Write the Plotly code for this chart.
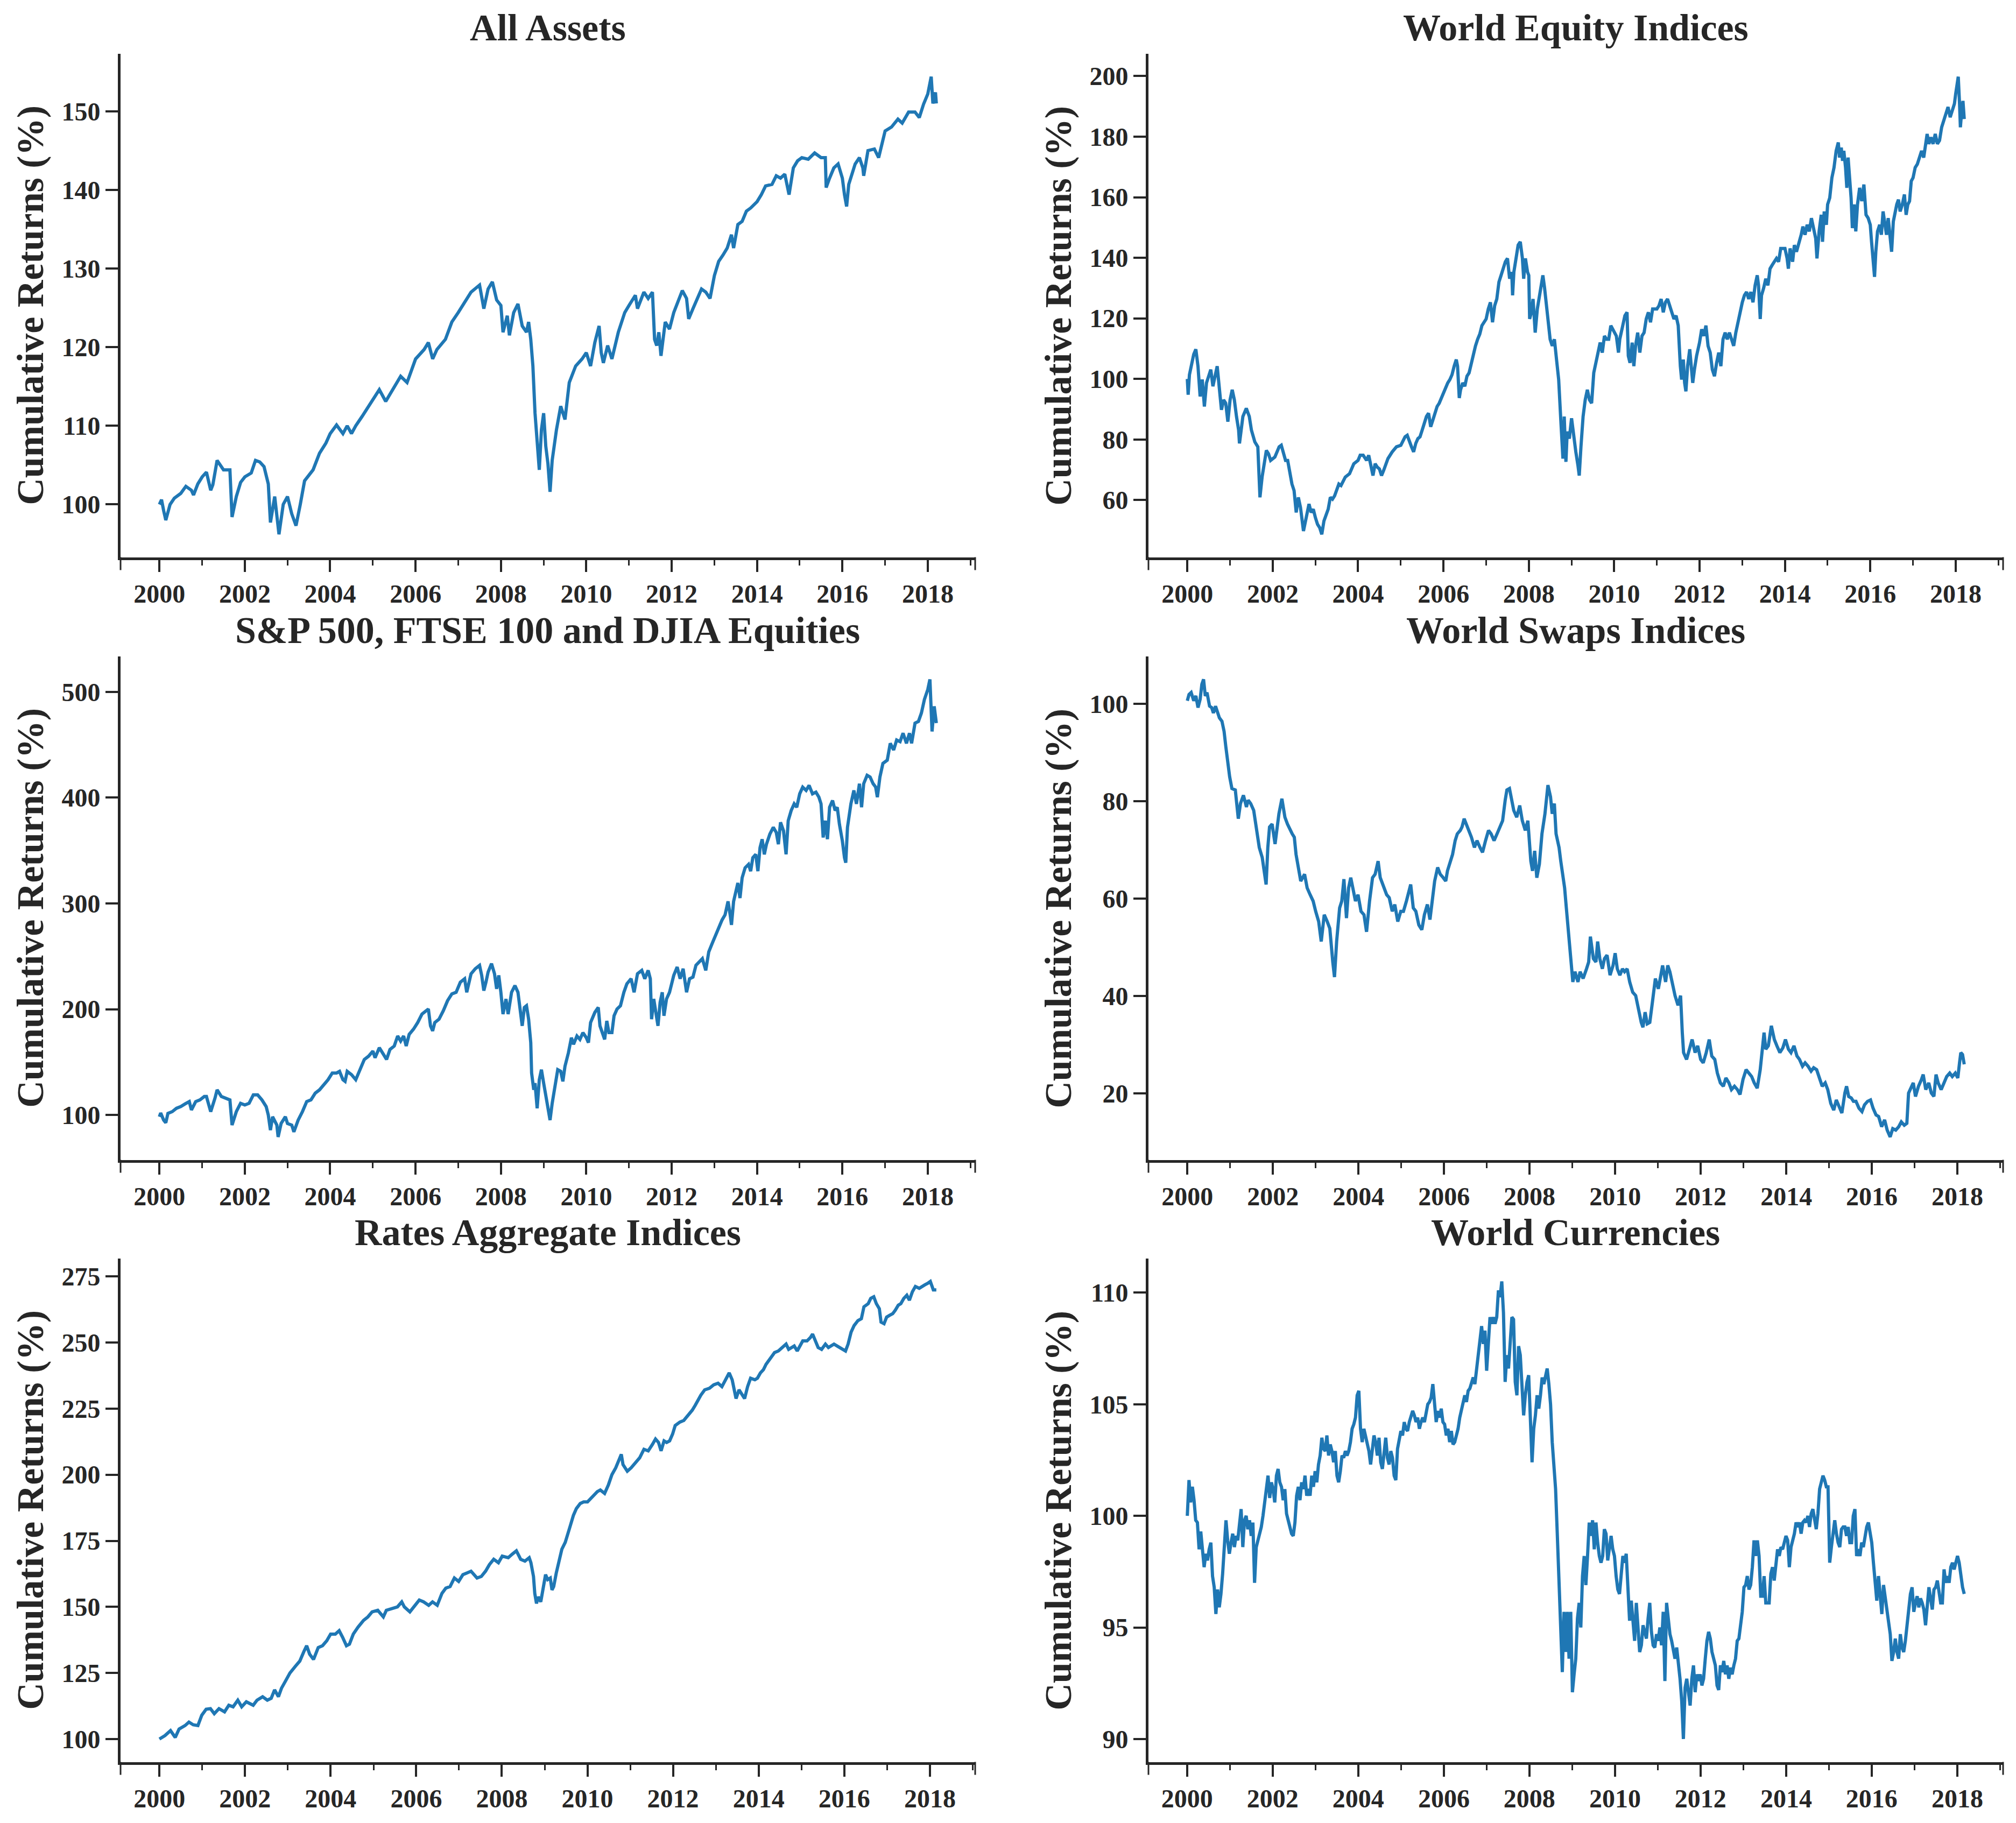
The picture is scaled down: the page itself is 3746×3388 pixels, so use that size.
import numpy as np
import pandas as pd
import plotly.graph_objects as go

# ---------------- data (decimal year, cumulative return %) ----------------
all_assets = [
(2000.00,100.0),(2000.05,100.6),(2000.10,99.2),(2000.15,98.0),(2000.25,100.0),(2000.35,100.8),(2000.50,101.4),
(2000.62,102.3),(2000.75,101.8),(2000.80,101.2),(2000.90,102.6),(2001.00,103.5),(2001.10,104.1),(2001.20,101.8),
(2001.25,102.5),(2001.35,105.6),(2001.50,104.4),(2001.65,104.4),(2001.70,98.4),(2001.80,101.0),(2001.90,102.8),
(2002.00,103.5),(2002.15,104.0),(2002.25,105.6),(2002.35,105.4),(2002.45,104.8),(2002.55,102.6),(2002.60,97.7),
(2002.70,101.0),(2002.80,96.2),(2002.90,100.0),(2003.00,101.0),(2003.10,98.8),(2003.20,97.3),(2003.30,100.0),
(2003.40,103.0),(2003.50,103.7),(2003.60,104.4),(2003.75,106.5),(2003.90,107.8),(2004.00,109.0),(2004.15,110.1),
(2004.30,109.0),(2004.40,110.0),(2004.50,109.0),(2004.60,110.0),(2004.75,111.2),(2004.90,112.5),(2005.00,113.3),
(2005.15,114.6),(2005.30,113.1),(2005.50,115.0),(2005.65,116.3),(2005.80,115.5),(2006.00,118.5),(2006.20,119.7),
(2006.30,120.6),(2006.40,118.5),(2006.50,119.7),(2006.70,121.0),(2006.85,123.2),(2007.00,124.4),(2007.15,125.7),
(2007.30,127.0),(2007.50,127.9),(2007.60,124.9),(2007.70,127.4),(2007.80,128.3),(2007.90,126.0),(2008.00,125.3),
(2008.05,121.9),(2008.15,124.0),(2008.20,121.5),(2008.30,124.4),(2008.40,125.5),(2008.50,122.7),(2008.60,121.9),
(2008.65,123.2),(2008.70,121.0),(2008.75,117.6),(2008.80,111.6),(2008.85,108.2),(2008.90,104.4),(2008.95,109.5),
(2009.00,111.6),(2009.05,107.4),(2009.10,105.2),(2009.15,101.6),(2009.20,105.6),(2009.30,109.5),(2009.40,112.5),
(2009.50,110.8),(2009.60,115.5),(2009.75,117.6),(2009.90,118.5),(2010.00,119.3),(2010.10,117.6),(2010.20,120.6),
(2010.30,122.7),(2010.35,119.3),(2010.40,118.0),(2010.50,120.2),(2010.60,118.5),(2010.75,121.9),(2010.90,124.4),
(2011.00,125.3),(2011.15,126.6),(2011.20,124.9),(2011.35,127.0),(2011.45,126.2),(2011.55,127.0),(2011.60,121.0),
(2011.65,120.2),(2011.70,121.9),(2011.75,118.9),(2011.85,123.2),(2011.95,122.3),(2012.05,124.4),(2012.15,125.7),
(2012.25,127.2),(2012.35,126.2),(2012.40,123.6),(2012.50,124.9),(2012.60,126.2),(2012.70,127.4),(2012.80,127.0),
(2012.90,126.2),(2013.00,129.1),(2013.10,130.9),(2013.20,131.7),(2013.30,132.6),(2013.40,134.3),(2013.45,132.6),
(2013.55,135.6),(2013.65,136.0),(2013.75,137.3),(2013.85,137.7),(2014.00,138.5),(2014.10,139.4),(2014.20,140.5),
(2014.35,140.7),(2014.45,141.8),(2014.55,141.5),(2014.65,142.0),(2014.75,139.4),(2014.85,142.8),(2014.95,143.7),
(2015.05,144.1),(2015.20,143.9),(2015.35,144.7),(2015.50,144.1),(2015.60,144.1),(2015.62,140.3),(2015.70,141.5),
(2015.80,142.8),(2015.90,143.3),(2016.00,141.5),(2016.05,139.4),(2016.10,137.9),(2016.15,140.7),(2016.30,143.3),
(2016.40,144.1),(2016.48,142.8),(2016.50,141.8),(2016.60,145.0),(2016.75,145.2),(2016.85,144.1),(2017.00,147.5),
(2017.15,148.0),(2017.30,149.0),(2017.40,148.5),(2017.55,149.9),(2017.70,149.9),(2017.80,149.2),(2017.90,150.9),
(2018.00,152.2),(2018.05,153.9),(2018.08,154.4),(2018.12,151.0),(2018.18,152.4),(2018.20,151.0)]

world_equity = [
(2000.00,100.0),(2000.02,94.8),(2000.05,101.4),(2000.10,104.2),(2000.15,108.1),(2000.20,109.8),(2000.25,104.2),
(2000.30,94.2),(2000.35,99.8),(2000.40,90.9),(2000.45,98.7),(2000.55,103.1),(2000.60,97.6),(2000.70,104.2),
(2000.75,96.4),(2000.80,89.8),(2000.85,93.1),(2000.90,92.0),(2000.95,85.9),(2001.00,93.1),(2001.05,96.4),
(2001.10,93.1),(2001.15,87.6),(2001.20,83.1),(2001.22,78.7),(2001.30,87.6),(2001.38,90.3),(2001.45,87.6),
(2001.50,83.1),(2001.58,79.2),(2001.65,77.6),(2001.70,60.9),(2001.75,67.6),(2001.80,72.0),(2001.85,76.4),
(2001.90,75.3),(2001.95,73.1),(2002.05,74.2),(2002.15,77.6),(2002.20,78.1),(2002.25,75.9),(2002.30,73.1),
(2002.35,73.1),(2002.40,68.7),(2002.45,65.3),(2002.50,63.1),(2002.55,55.9),(2002.60,60.9),(2002.65,57.6),
(2002.70,52.0),(2002.72,49.8),(2002.80,55.3),(2002.85,58.7),(2002.90,55.9),(2002.95,57.0),(2003.00,54.2),
(2003.05,52.0),(2003.10,50.9),(2003.15,48.7),(2003.20,53.1),(2003.25,55.3),(2003.30,57.0),(2003.35,60.9),
(2003.40,60.3),(2003.45,61.4),(2003.50,63.1),(2003.55,65.3),(2003.60,64.8),(2003.65,66.4),(2003.70,67.6),
(2003.80,68.7),(2003.90,72.0),(2004.00,73.1),(2004.05,74.8),(2004.12,74.8),(2004.20,73.1),(2004.25,74.8),
(2004.30,70.9),(2004.35,68.1),(2004.40,72.0),(2004.45,70.9),(2004.50,70.3),(2004.55,68.1),(2004.60,69.8),
(2004.65,72.0),(2004.70,73.7),(2004.80,75.9),(2004.90,77.6),(2005.00,78.1),(2005.05,79.8),(2005.10,80.9),
(2005.15,81.4),(2005.20,79.2),(2005.25,77.6),(2005.30,75.9),(2005.35,78.7),(2005.40,80.3),(2005.45,80.9),
(2005.50,83.1),(2005.55,85.3),(2005.60,87.6),(2005.65,88.7),(2005.70,84.2),(2005.75,86.4),(2005.80,88.7),
(2005.85,90.9),(2005.90,92.0),(2006.00,95.3),(2006.05,97.6),(2006.10,98.7),(2006.15,99.8),(2006.20,101.4),
(2006.25,104.2),(2006.30,106.4),(2006.33,104.2),(2006.37,93.7),(2006.40,96.4),(2006.45,98.7),(2006.50,97.6),
(2006.55,100.9),(2006.60,102.0),(2006.65,105.3),(2006.70,108.7),(2006.75,110.9),(2006.80,113.1),(2006.85,114.8),
(2006.90,117.6),(2007.00,119.8),(2007.05,123.1),(2007.10,125.3),(2007.15,118.7),(2007.20,124.2),(2007.25,126.4),
(2007.30,132.0),(2007.35,134.2),(2007.40,136.4),(2007.45,138.7),(2007.50,139.8),(2007.55,133.1),(2007.60,135.3),
(2007.62,127.6),(2007.65,135.3),(2007.70,139.8),(2007.75,144.2),(2007.80,145.3),(2007.85,139.8),(2007.88,133.1),
(2007.92,139.8),(2007.97,135.3),(2008.00,134.2),(2008.02,119.8),(2008.06,122.0),(2008.10,126.4),(2008.13,117.6),
(2008.15,115.3),(2008.20,123.1),(2008.25,127.6),(2008.30,130.9),(2008.33,134.2),(2008.37,130.0),(2008.42,123.1),
(2008.47,115.3),(2008.50,113.1),(2008.55,110.9),(2008.60,113.1),(2008.65,106.4),(2008.70,99.8),(2008.75,86.4),
(2008.80,73.7),(2008.83,87.6),(2008.87,72.6),(2008.90,82.6),(2008.95,80.3),(2009.00,87.0),(2009.05,80.3),
(2009.10,75.9),(2009.15,71.4),(2009.18,68.1),(2009.22,77.6),(2009.27,87.6),(2009.32,93.1),(2009.37,96.4),
(2009.42,93.1),(2009.47,92.0),(2009.52,102.0),(2009.57,105.3),(2009.62,108.7),(2009.67,112.0),(2009.72,108.7),
(2009.77,114.2),(2009.82,113.1),(2009.87,113.1),(2009.92,117.6),(2010.05,114.2),(2010.10,108.7),(2010.13,113.1),
(2010.20,117.6),(2010.25,120.9),(2010.30,122.0),(2010.33,107.6),(2010.37,105.3),(2010.42,112.0),(2010.46,104.2),
(2010.50,110.9),(2010.55,115.3),(2010.60,108.7),(2010.65,114.2),(2010.70,115.3),(2010.75,119.8),(2010.80,122.0),
(2010.85,118.7),(2010.90,123.1),(2011.00,123.1),(2011.05,124.2),(2011.10,126.4),(2011.15,122.0),(2011.20,125.3),
(2011.25,126.4),(2011.30,124.2),(2011.35,122.0),(2011.40,119.8),(2011.45,120.9),(2011.50,117.6),(2011.55,104.2),
(2011.58,99.8),(2011.62,106.4),(2011.65,98.7),(2011.68,95.9),(2011.72,104.2),(2011.77,109.8),(2011.80,104.2),
(2011.84,98.7),(2011.88,103.1),(2011.93,107.6),(2012.00,112.0),(2012.05,116.4),(2012.10,114.2),(2012.15,117.6),
(2012.20,110.9),(2012.25,108.7),(2012.30,103.1),(2012.35,100.9),(2012.40,105.3),(2012.45,108.7),(2012.50,104.2),
(2012.55,113.1),(2012.60,115.3),(2012.65,113.1),(2012.70,115.3),(2012.75,113.1),(2012.80,110.9),(2012.85,115.3),
(2012.90,118.7),(2012.95,122.0),(2013.00,125.3),(2013.05,127.6),(2013.10,128.7),(2013.15,126.4),(2013.20,128.7),
(2013.25,125.3),(2013.30,130.9),(2013.35,134.2),(2013.38,130.9),(2013.42,119.8),(2013.45,127.6),(2013.50,130.0),
(2013.55,133.1),(2013.60,130.9),(2013.65,136.4),(2013.70,137.6),(2013.75,138.7),(2013.80,139.8),(2013.85,138.7),
(2013.90,143.1),(2014.00,143.1),(2014.05,139.8),(2014.08,136.4),(2014.12,143.1),(2014.18,138.7),(2014.22,144.2),
(2014.27,142.0),(2014.32,144.2),(2014.38,147.6),(2014.42,150.3),(2014.47,147.6),(2014.52,150.9),(2014.57,148.7),
(2014.62,153.1),(2014.67,149.8),(2014.72,146.4),(2014.75,139.8),(2014.80,148.7),(2014.85,154.2),(2014.88,145.3),
(2014.92,155.3),(2014.97,150.9),(2015.00,157.6),(2015.05,159.8),(2015.10,166.4),(2015.15,169.8),(2015.20,175.3),
(2015.25,178.1),(2015.28,173.1),(2015.32,176.4),(2015.35,172.0),(2015.38,175.3),(2015.42,169.8),(2015.45,163.1),
(2015.48,173.1),(2015.52,166.4),(2015.55,159.8),(2015.58,149.8),(2015.62,157.6),(2015.66,148.7),(2015.70,157.6),
(2015.75,163.1),(2015.80,158.7),(2015.85,164.2),(2015.90,154.2),(2015.95,153.1),(2016.00,150.9),(2016.03,145.3),
(2016.07,139.8),(2016.10,133.7),(2016.13,142.0),(2016.17,148.7),(2016.22,150.9),(2016.26,147.6),(2016.30,155.3),
(2016.34,150.9),(2016.38,147.6),(2016.42,153.1),(2016.50,142.0),(2016.54,152.0),(2016.58,155.3),(2016.62,157.6),
(2016.66,159.2),(2016.70,155.3),(2016.75,157.6),(2016.80,160.9),(2016.84,154.2),(2016.88,157.6),(2016.92,158.7),
(2016.96,165.3),(2017.00,166.4),(2017.05,169.8),(2017.10,170.9),(2017.15,173.1),(2017.20,175.3),(2017.25,173.1),
(2017.30,178.7),(2017.33,180.9),(2017.37,177.6),(2017.42,179.8),(2017.47,177.6),(2017.52,180.9),(2017.57,177.6),
(2017.62,178.7),(2017.67,183.1),(2017.72,185.3),(2017.77,187.6),(2017.82,189.8),(2017.87,186.4),(2017.92,189.1),
(2017.97,190.9),(2018.00,194.2),(2018.03,197.6),(2018.06,199.8),(2018.09,190.9),(2018.11,183.1),(2018.14,188.4),
(2018.17,191.8),(2018.20,185.8)]

sp_ftse_djia = [
(2000.00,98.4),(2000.03,102.0),(2000.10,95.2),(2000.15,92.7),(2000.20,101.6),(2000.30,103.2),(2000.40,106.4),
(2000.50,108.0),(2000.60,110.5),(2000.70,112.7),(2000.75,104.8),(2000.85,112.7),(2000.95,114.3),(2001.05,117.5),
(2001.10,117.5),(2001.20,103.2),(2001.30,115.9),(2001.35,123.8),(2001.45,117.5),(2001.55,115.9),(2001.65,114.3),
(2001.70,90.5),(2001.80,103.2),(2001.90,111.1),(2002.00,109.5),(2002.10,111.1),(2002.20,119.1),(2002.30,119.1),
(2002.40,114.3),(2002.50,108.0),(2002.55,100.0),(2002.60,85.7),(2002.65,98.4),(2002.75,90.5),(2002.78,79.3),
(2002.85,92.0),(2002.95,98.4),(2003.00,92.0),(2003.10,90.5),(2003.15,84.1),(2003.25,95.2),(2003.35,103.2),
(2003.45,112.7),(2003.55,114.3),(2003.65,120.7),(2003.75,123.8),(2003.85,128.6),(2003.95,133.4),(2004.05,139.7),
(2004.15,139.7),(2004.22,141.3),(2004.30,133.4),(2004.35,131.8),(2004.40,141.3),(2004.50,138.2),(2004.60,133.4),
(2004.70,142.9),(2004.80,152.5),(2004.90,155.6),(2005.00,160.4),(2005.05,154.1),(2005.15,163.6),(2005.25,157.2),
(2005.32,152.5),(2005.40,162.0),(2005.50,165.2),(2005.58,174.7),(2005.65,169.9),(2005.72,174.7),(2005.78,165.2),
(2005.85,176.3),(2005.95,181.1),(2006.05,187.4),(2006.15,195.4),(2006.25,198.6),(2006.30,200.2),(2006.35,184.3),
(2006.40,179.5),(2006.45,187.4),(2006.55,190.6),(2006.65,198.6),(2006.75,208.1),(2006.85,214.5),(2006.95,216.0),
(2007.05,225.6),(2007.15,228.8),(2007.20,216.0),(2007.30,233.5),(2007.40,238.3),(2007.50,241.5),(2007.55,232.0),
(2007.60,217.6),(2007.65,225.6),(2007.70,235.1),(2007.78,243.1),(2007.85,233.5),(2007.90,219.2),(2007.95,232.0),
(2008.00,216.0),(2008.05,195.4),(2008.12,209.7),(2008.17,195.4),(2008.25,216.0),(2008.33,222.4),(2008.40,216.0),
(2008.45,200.2),(2008.50,184.3),(2008.55,201.7),(2008.60,203.3),(2008.65,190.6),(2008.70,168.4),(2008.72,139.7),
(2008.77,123.8),(2008.80,130.2),(2008.85,106.4),(2008.90,133.4),(2008.95,142.9),(2009.00,130.2),(2009.05,117.5),
(2009.10,108.0),(2009.15,95.2),(2009.20,111.1),(2009.27,130.2),(2009.33,142.9),(2009.40,141.3),(2009.45,131.8),
(2009.50,146.1),(2009.58,158.8),(2009.65,173.1),(2009.70,166.8),(2009.78,174.7),(2009.85,171.5),(2009.92,177.9),
(2010.00,173.1),(2010.05,168.4),(2010.10,187.4),(2010.20,197.0),(2010.28,201.7),(2010.32,184.3),(2010.38,177.9),
(2010.43,171.5),(2010.48,189.0),(2010.53,177.9),(2010.60,177.9),(2010.65,193.8),(2010.72,200.2),(2010.80,203.3),
(2010.88,216.0),(2010.95,224.0),(2011.05,228.8),(2011.12,216.0),(2011.20,233.5),(2011.30,236.7),(2011.37,228.8),
(2011.45,236.7),(2011.50,228.8),(2011.53,190.6),(2011.58,209.7),(2011.62,200.2),(2011.68,184.3),(2011.73,206.5),
(2011.78,216.0),(2011.82,193.8),(2011.88,209.7),(2011.95,216.0),(2012.05,232.0),(2012.13,239.9),(2012.20,228.8),
(2012.27,238.3),(2012.35,216.0),(2012.42,228.8),(2012.50,230.4),(2012.57,241.5),(2012.65,244.6),(2012.72,247.8),
(2012.80,236.7),(2012.87,254.2),(2012.95,262.2),(2013.05,271.7),(2013.12,279.7),(2013.18,284.4),(2013.25,289.2),
(2013.32,301.9),(2013.37,289.2),(2013.40,279.7),(2013.45,301.9),(2013.50,311.4),(2013.55,319.4),(2013.60,305.1),
(2013.65,324.2),(2013.72,333.7),(2013.80,336.9),(2013.85,330.5),(2013.90,343.2),(2013.97,346.4),(2014.02,330.5),
(2014.07,352.8),(2014.12,360.7),(2014.17,346.4),(2014.22,355.9),(2014.30,365.5),(2014.38,371.9),(2014.45,367.1),
(2014.50,355.9),(2014.55,376.6),(2014.62,368.7),(2014.68,346.4),(2014.73,378.2),(2014.80,387.8),(2014.87,394.1),
(2014.93,390.9),(2015.00,403.6),(2015.07,409.9),(2015.15,406.8),(2015.22,411.6),(2015.30,403.6),(2015.38,405.2),
(2015.45,400.4),(2015.50,394.1),(2015.55,362.3),(2015.60,378.2),(2015.65,360.7),(2015.70,390.9),(2015.77,397.3),
(2015.83,387.8),(2015.88,390.9),(2015.93,375.0),(2016.00,359.1),(2016.05,343.2),(2016.08,338.5),(2016.12,371.9),
(2016.20,394.1),(2016.27,406.8),(2016.33,394.1),(2016.40,413.2),(2016.45,390.9),(2016.50,413.2),(2016.58,421.1),
(2016.65,419.5),(2016.72,413.2),(2016.78,410.0),(2016.82,400.4),(2016.88,419.5),(2016.95,432.3),(2017.05,435.4),
(2017.12,451.3),(2017.20,445.0),(2017.27,454.5),(2017.35,452.9),(2017.42,460.9),(2017.50,451.3),(2017.57,460.9),
(2017.62,451.3),(2017.70,470.4),(2017.78,472.0),(2017.85,480.0),(2017.92,492.7),(2018.00,502.2),(2018.05,511.8),
(2018.08,480.0),(2018.10,462.5),(2018.15,486.3),(2018.20,470.4)]

world_swaps = [
(2000.00,100.6),(2000.04,101.9),(2000.09,102.3),(2000.15,100.6),(2000.20,101.6),(2000.25,99.2),(2000.30,100.9),
(2000.34,104.0),(2000.38,105.0),(2000.42,101.6),(2000.46,102.3),(2000.52,99.5),(2000.57,99.2),(2000.61,98.1),
(2000.66,99.5),(2000.71,98.1),(2000.75,97.1),(2000.81,96.4),(2000.86,94.3),(2000.90,91.2),(2000.94,88.1),
(2000.99,85.0),(2001.04,82.6),(2001.12,82.3),(2001.19,76.4),(2001.24,79.5),(2001.31,81.2),(2001.38,78.8),
(2001.42,80.2),(2001.48,79.5),(2001.55,78.1),(2001.61,74.7),(2001.68,70.5),(2001.75,68.4),(2001.84,62.9),
(2001.88,70.5),(2001.92,74.7),(2001.98,75.3),(2002.05,71.2),(2002.14,77.4),(2002.21,80.5),(2002.28,76.7),
(2002.34,75.3),(2002.45,73.3),(2002.50,72.6),(2002.54,69.1),(2002.61,65.0),(2002.65,63.6),(2002.74,65.0),
(2002.80,62.2),(2002.87,60.8),(2002.94,59.5),(2003.00,57.4),(2003.07,55.3),(2003.13,51.2),(2003.20,56.7),
(2003.27,55.3),(2003.33,53.9),(2003.40,47.0),(2003.44,43.9),(2003.49,51.2),(2003.56,58.1),(2003.61,59.5),
(2003.66,64.0),(2003.72,56.0),(2003.77,62.2),(2003.82,64.3),(2003.88,61.5),(2003.93,59.5),(2003.99,60.8),
(2004.06,57.4),(2004.13,56.7),(2004.19,53.2),(2004.26,59.5),(2004.33,64.3),(2004.39,65.0),(2004.46,67.7),
(2004.51,64.3),(2004.59,62.2),(2004.66,60.8),(2004.72,60.2),(2004.79,57.4),(2004.85,58.8),(2004.92,55.3),
(2004.99,57.4),(2005.05,57.4),(2005.12,59.5),(2005.19,62.2),(2005.22,62.9),(2005.28,58.1),(2005.34,57.4),
(2005.41,54.6),(2005.48,53.6),(2005.54,56.7),(2005.61,58.8),(2005.67,55.7),(2005.74,60.8),(2005.78,63.6),
(2005.85,66.4),(2005.91,65.0),(2005.98,64.3),(2006.04,63.6),(2006.08,65.7),(2006.14,67.7),(2006.20,69.1),
(2006.26,71.9),(2006.31,73.3),(2006.38,74.0),(2006.42,74.7),(2006.47,76.4),(2006.52,75.3),(2006.57,74.3),
(2006.64,72.6),(2006.71,70.5),(2006.77,71.9),(2006.84,70.5),(2006.90,69.5),(2006.97,71.9),(2007.04,74.0),
(2007.10,73.3),(2007.17,71.9),(2007.24,73.3),(2007.30,74.7),(2007.37,76.0),(2007.43,80.2),(2007.47,82.3),
(2007.53,82.6),(2007.58,80.2),(2007.63,78.1),(2007.70,76.7),(2007.77,79.1),(2007.83,76.0),(2007.90,74.0),
(2007.96,76.0),(2008.03,67.7),(2008.07,65.7),(2008.12,69.8),(2008.17,64.3),(2008.23,67.1),(2008.29,73.3),
(2008.36,77.4),(2008.43,83.3),(2008.49,80.9),(2008.53,77.4),(2008.58,79.5),(2008.62,73.3),(2008.69,70.5),
(2008.73,67.7),(2008.78,65.0),(2008.82,62.2),(2008.86,58.1),(2008.90,53.9),(2008.93,50.5),(2008.97,45.6),
(2009.01,42.9),(2009.06,45.0),(2009.13,42.9),(2009.18,45.0),(2009.25,43.6),(2009.33,45.6),(2009.38,47.0),
(2009.42,52.2),(2009.49,47.7),(2009.55,47.0),(2009.59,51.2),(2009.64,47.7),(2009.70,45.6),(2009.75,47.7),
(2009.81,48.4),(2009.88,44.3),(2009.95,46.3),(2010.00,48.8),(2010.05,45.6),(2010.11,44.3),(2010.17,45.6),
(2010.22,45.0),(2010.28,45.6),(2010.34,42.9),(2010.41,40.8),(2010.48,40.1),(2010.54,37.4),(2010.61,34.6),
(2010.65,33.6),(2010.70,36.7),(2010.75,34.3),(2010.81,34.6),(2010.87,38.7),(2010.94,43.6),(2011.01,41.5),
(2011.07,44.3),(2011.11,46.3),(2011.18,42.9),(2011.23,46.3),(2011.28,45.0),(2011.34,42.2),(2011.40,40.1),
(2011.47,38.1),(2011.53,40.1),(2011.57,32.5),(2011.60,28.4),(2011.67,27.0),(2011.73,29.1),(2011.80,31.1),
(2011.87,28.4),(2011.93,29.8),(2012.00,27.0),(2012.06,26.3),(2012.13,28.4),(2012.20,31.1),(2012.26,27.7),
(2012.33,27.0),(2012.39,24.2),(2012.46,22.2),(2012.53,21.5),(2012.59,23.2),(2012.66,22.2),(2012.72,20.8),
(2012.79,21.5),(2012.86,20.8),(2012.92,19.8),(2012.99,22.9),(2013.06,24.9),(2013.12,24.2),(2013.19,23.5),
(2013.25,22.2),(2013.32,21.1),(2013.39,24.9),(2013.43,28.4),(2013.48,32.5),(2013.52,29.1),(2013.58,29.8),
(2013.65,33.9),(2013.72,31.1),(2013.78,29.8),(2013.85,28.4),(2013.92,29.4),(2013.98,31.1),(2014.05,29.1),
(2014.11,28.4),(2014.18,29.8),(2014.25,27.7),(2014.31,27.0),(2014.38,25.6),(2014.44,26.3),(2014.51,25.6),
(2014.58,24.6),(2014.64,25.3),(2014.71,24.9),(2014.78,22.9),(2014.84,21.5),(2014.91,22.2),(2014.97,20.8),
(2015.04,18.0),(2015.11,16.6),(2015.17,18.7),(2015.24,17.0),(2015.30,16.0),(2015.37,20.1),(2015.41,21.5),
(2015.46,19.4),(2015.52,19.1),(2015.57,18.4),(2015.63,18.4),(2015.70,17.0),(2015.77,16.3),(2015.83,17.7),
(2015.90,18.4),(2015.97,18.7),(2016.03,17.0),(2016.10,15.6),(2016.16,15.3),(2016.23,13.2),(2016.30,14.6),
(2016.36,12.5),(2016.43,11.1),(2016.49,12.8),(2016.56,12.5),(2016.63,13.2),(2016.69,14.2),(2016.76,13.5),
(2016.82,13.9),(2016.86,20.1),(2016.92,21.5),(2016.97,22.2),(2017.02,19.4),(2017.09,21.5),(2017.16,22.9),
(2017.20,23.9),(2017.26,20.8),(2017.33,22.2),(2017.39,20.1),(2017.45,19.4),(2017.50,23.9),(2017.55,22.2),
(2017.62,20.8),(2017.69,22.2),(2017.75,23.5),(2017.82,24.2),(2017.88,23.5),(2017.95,24.2),(2018.01,23.2),
(2018.05,26.3),(2018.08,28.4),(2018.12,28.0),(2018.16,26.0)]

rates_aggregate = [
(2000.00,100.0),(2000.13,101.3),(2000.26,103.2),(2000.37,100.6),(2000.46,103.8),(2000.60,105.1),(2000.69,106.4),
(2000.79,105.4),(2000.90,105.1),(2000.99,109.0),(2001.09,111.3),(2001.19,111.5),(2001.28,109.6),(2001.39,111.5),
(2001.52,110.3),(2001.62,112.8),(2001.72,112.2),(2001.83,114.7),(2001.92,112.2),(2002.03,114.1),(2002.19,112.8),
(2002.28,114.7),(2002.41,116.0),(2002.52,114.7),(2002.61,115.4),(2002.69,118.6),(2002.78,116.0),(2002.85,119.2),
(2002.94,121.8),(2003.05,125.0),(2003.18,127.6),(2003.28,129.5),(2003.38,133.3),(2003.44,135.3),(2003.51,132.1),
(2003.60,130.1),(2003.71,134.6),(2003.81,135.3),(2003.91,137.2),(2004.00,139.7),(2004.11,139.7),(2004.20,141.0),
(2004.28,138.5),(2004.37,135.3),(2004.44,135.9),(2004.53,139.7),(2004.64,142.3),(2004.77,144.9),(2004.87,146.2),
(2004.97,148.1),(2005.10,148.7),(2005.23,146.2),(2005.30,148.7),(2005.43,149.4),(2005.56,150.0),(2005.66,151.9),
(2005.72,150.0),(2005.85,148.1),(2005.96,150.6),(2006.07,152.6),(2006.17,151.9),(2006.29,150.6),(2006.38,151.9),
(2006.49,150.6),(2006.60,155.1),(2006.69,157.1),(2006.79,157.7),(2006.89,160.9),(2006.99,159.6),(2007.09,162.2),
(2007.18,162.8),(2007.28,163.5),(2007.42,160.9),(2007.52,161.5),(2007.62,163.5),(2007.71,166.0),(2007.81,168.0),
(2007.92,166.7),(2008.01,169.2),(2008.15,168.6),(2008.24,169.9),(2008.34,171.2),(2008.44,168.0),(2008.54,167.3),
(2008.64,168.6),(2008.68,166.7),(2008.74,161.5),(2008.77,155.1),(2008.81,151.3),(2008.85,153.8),(2008.91,151.9),
(2008.97,157.7),(2009.02,162.2),(2009.07,160.3),(2009.13,160.9),(2009.17,156.4),(2009.21,157.7),(2009.27,162.8),
(2009.34,168.0),(2009.40,171.8),(2009.48,174.4),(2009.54,178.2),(2009.60,180.8),(2009.67,184.6),(2009.74,187.2),
(2009.83,189.1),(2009.91,189.7),(2010.00,189.7),(2010.07,191.0),(2010.13,191.7),(2010.23,193.6),(2010.30,194.2),
(2010.40,192.9),(2010.49,196.2),(2010.57,200.0),(2010.66,202.6),(2010.73,205.4),(2010.79,207.7),(2010.83,203.8),
(2010.93,201.3),(2011.02,202.6),(2011.13,204.5),(2011.22,206.4),(2011.32,209.6),(2011.42,209.0),(2011.52,211.5),
(2011.59,213.5),(2011.66,212.2),(2011.72,209.0),(2011.79,212.8),(2011.85,212.2),(2011.92,212.8),(2011.99,215.4),
(2012.05,218.6),(2012.16,219.9),(2012.25,220.5),(2012.32,221.8),(2012.38,223.1),(2012.45,224.4),(2012.52,226.3),
(2012.58,228.2),(2012.65,230.1),(2012.74,232.1),(2012.85,232.7),(2012.95,234.0),(2013.05,234.6),(2013.14,233.3),
(2013.25,236.5),(2013.31,238.5),(2013.38,235.9),(2013.43,232.1),(2013.47,228.8),(2013.54,232.1),(2013.62,230.1),
(2013.67,228.8),(2013.74,233.3),(2013.81,236.5),(2013.91,235.9),(2013.97,236.5),(2014.04,238.5),(2014.11,239.7),
(2014.17,241.7),(2014.26,243.6),(2014.37,246.2),(2014.46,246.8),(2014.54,248.1),(2014.64,249.4),(2014.70,247.4),
(2014.77,248.1),(2014.83,248.7),(2014.90,246.8),(2014.97,248.7),(2015.03,250.6),(2015.13,250.6),(2015.21,251.9),
(2015.26,253.2),(2015.32,250.6),(2015.39,248.1),(2015.47,247.4),(2015.56,249.4),(2015.63,248.1),(2015.70,248.7),
(2015.76,249.4),(2015.83,248.7),(2015.89,248.1),(2015.96,247.4),(2016.03,246.8),(2016.09,249.4),(2016.16,253.9),
(2016.23,256.4),(2016.32,258.3),(2016.40,259.0),(2016.46,263.5),(2016.56,264.7),(2016.62,266.7),(2016.69,267.3),
(2016.75,264.7),(2016.82,262.8),(2016.86,257.7),(2016.93,257.1),(2016.99,259.6),(2017.06,260.3),(2017.13,260.9),
(2017.19,262.2),(2017.26,264.1),(2017.32,264.7),(2017.39,266.7),(2017.46,267.9),(2017.52,266.0),(2017.59,269.2),
(2017.66,271.2),(2017.75,270.5),(2017.81,271.2),(2017.88,271.8),(2017.95,272.4),(2018.01,273.1),(2018.08,269.9),
(2018.15,269.9)]

# World currencies: evenly spaced readings from 2000-01 to 2018-03
currencies_start, currencies_end = "2000-01-03", "2018-03-01"
world_currencies = [
100.0,101.6,100.6,101.3,100.7,99.8,99.7,98.5,99.3,98.6,97.7,98.3,98.0,98.5,98.8,97.3,96.8,95.6,96.7,95.9,96.5,
97.4,98.5,99.8,98.9,98.3,98.8,99.2,98.6,99.1,98.9,99.5,100.3,98.6,99.8,100.0,99.4,99.8,99.1,99.7,97.0,98.6,98.9,
99.2,99.5,100.0,100.6,101.3,101.8,100.8,101.5,101.2,100.6,101.8,102.1,101.5,101.3,100.7,101.2,100.1,99.8,99.4,
99.2,99.1,99.7,100.9,101.3,100.7,101.5,101.2,101.8,100.9,101.2,100.9,101.8,101.3,102.0,101.5,102.3,102.7,103.5,
103.0,102.9,103.6,102.7,103.2,102.9,102.4,102.9,101.8,101.5,102.0,102.7,102.6,102.9,102.7,102.9,103.3,103.9,
104.1,104.4,105.4,105.6,103.9,103.3,103.9,103.6,103.3,102.9,102.3,103.0,103.6,103.3,102.7,103.5,102.4,102.1,
103.0,103.5,102.6,102.3,102.9,102.6,101.8,101.6,103.0,103.5,103.8,103.6,104.2,103.9,103.8,104.2,104.4,104.7,
104.5,104.2,104.4,103.9,104.2,104.4,104.2,104.7,105.0,105.1,105.3,105.9,105.1,104.2,104.7,104.4,104.8,104.2,
104.1,103.6,103.9,103.3,103.8,103.2,103.3,103.6,103.9,104.4,104.7,105.0,105.4,105.1,105.6,105.7,106.0,106.2,
105.9,106.6,107.4,107.8,108.5,107.7,108.3,106.5,107.6,108.9,108.6,108.9,108.6,108.9,110.1,109.8,110.5,109.1,
106.0,107.2,106.6,107.8,108.9,108.8,106.0,105.4,107.6,107.2,106.0,104.5,105.4,106.0,106.3,104.2,102.4,103.9,
104.5,105.4,104.8,105.4,106.2,105.9,106.3,106.6,105.9,105.0,103.3,102.1,101.2,99.2,96.8,95.0,93.0,95.7,93.9,
95.7,93.6,95.7,92.1,92.9,93.6,95.4,96.1,95.0,97.3,98.2,96.9,98.2,99.7,99.1,99.8,98.5,99.7,98.8,98.2,97.9,98.2,
99.4,99.2,98.0,98.5,99.1,98.5,98.2,97.3,96.7,96.5,97.6,98.2,97.9,98.3,96.8,95.3,96.2,95.4,94.4,96.1,94.8,93.9,
94.2,95.1,94.8,94.5,95.4,96.1,94.8,94.2,94.1,94.7,94.4,95.0,94.2,95.7,92.6,96.1,95.4,94.7,94.4,93.9,93.6,94.1,
93.5,92.7,91.7,90.0,92.3,92.7,92.1,91.5,92.7,93.3,92.1,92.9,92.6,92.9,92.4,92.7,93.6,94.4,94.8,94.5,93.9,93.6,
93.3,92.4,92.2,93.3,93.0,93.5,92.9,93.3,92.7,93.2,92.9,93.3,93.6,94.4,94.5,95.1,95.7,96.8,96.9,97.3,96.7,96.9,
97.7,98.9,98.2,98.9,98.2,96.4,96.4,97.3,96.1,96.1,96.1,97.4,97.7,97.1,97.9,98.5,98.2,98.6,98.5,98.8,99.1,98.9,
97.7,98.6,98.9,99.2,99.7,99.5,99.7,99.2,99.7,99.8,99.7,100.0,99.5,100.1,100.3,99.8,99.4,100.1,101.2,101.5,101.8,
101.6,101.3,101.3,97.9,98.6,99.2,99.8,99.2,98.8,98.6,99.4,99.5,99.5,99.1,99.5,98.8,98.8,100.0,100.3,98.2,98.5,
98.2,98.8,98.6,99.1,99.5,99.7,99.2,98.8,97.9,96.8,96.2,97.3,96.4,95.6,96.9,96.4,95.8,95.4,94.7,93.5,93.9,94.5,
93.9,93.6,94.7,94.1,93.9,94.4,95.1,95.7,96.5,96.8,95.7,96.1,96.4,95.9,96.3,96.1,95.8,95.1,96.1,96.8,96.3,95.8,
96.7,96.8,97.1,96.5,96.1,96.1,97.6,97.0,97.3,97.0,97.7,97.9,97.6,97.9,98.2,97.9,97.3,96.8,96.5]

titles = ["All Assets", "World Equity Indices", "S&P 500, FTSE 100 and DJIA Equities",
          "World Swaps Indices", "Rates Aggregate Indices", "World Currencies"]
y_dticks = [10, 20, 100, 20, 25, 5]
y_label = "Cumulative Returns (%)"

# ---------------- helpers ----------------
def yr_to_date(y):
    yr = int(np.floor(y))
    return pd.Timestamp(year=yr, month=1, day=1) + pd.Timedelta(days=(y - yr) * 365.25)

def split(pairs):
    t = [yr_to_date(p[0]) for p in pairs]
    v = [p[1] for p in pairs]
    return t, v

series = [split(all_assets), split(world_equity), split(sp_ftse_djia),
          split(world_swaps), split(rates_aggregate)]
series.append((list(pd.date_range(currencies_start, currencies_end, periods=len(world_currencies))),
               world_currencies))

W, H = 3746, 3388
FONT = "Liberation Serif"
INK = "#262626"
BLUE = "#1f77b4"

col_dom = [(224 / W, 1812 / W), (2134 / W, 3722 / W)]
row_top_px = [100, 1220, 2339]
row_h_px = 935.5
row_dom = [(1 - (t + row_h_px) / H, 1 - t / H) for t in row_top_px]

fig = go.Figure()
annotations = []
shapes = []
layout = {}

for i, (t, v) in enumerate(series):
    r, c = divmod(i, 2)
    n = i + 1
    xn = "x" if n == 1 else f"x{n}"
    yn = "y" if n == 1 else f"y{n}"
    fig.add_trace(go.Scatter(x=t, y=v, mode="lines", line=dict(color=BLUE, width=6),
                             xaxis=xn, yaxis=yn, showlegend=False, hoverinfo="skip"))
    tmin, tmax = min(t), max(t)
    tpad = (tmax - tmin) * 0.05
    vmin, vmax = min(v), max(v)
    vpad = (vmax - vmin) * 0.05
    xd, yd = col_dom[c], row_dom[r]
    layout["xaxis" if n == 1 else f"xaxis{n}"] = dict(
        domain=list(xd), anchor=yn, type="date",
        range=[tmin - tpad, tmax + tpad],
        tick0="2000-01-01", dtick="M24", tickformat="%Y",
        ticks="outside", ticklen=22, tickwidth=4, tickcolor=INK,
        minor=dict(tick0="2000-01-01", dtick="M12", ticks="outside", ticklen=10,
                   tickwidth=3, tickcolor=INK, showgrid=False),
        showline=True, linewidth=5, linecolor=INK, mirror=False,
        showgrid=False, zeroline=False,
        tickfont=dict(family=FONT, size=48, color=INK, weight="bold"),
    )
    layout["yaxis" if n == 1 else f"yaxis{n}"] = dict(
        domain=list(yd), anchor=xn,
        range=[vmin - vpad, vmax + vpad],
        tick0=0, dtick=y_dticks[i],
        ticks="outside", ticklen=23, tickwidth=4, tickcolor=INK,
        showline=True, linewidth=5, linecolor=INK,
        showgrid=False, zeroline=False,
        tickfont=dict(family=FONT, size=48, color=INK, weight="bold"),
    )
    # titles
    annotations.append(dict(text=titles[i], xref="paper", yref="paper",
                            x=(xd[0] + xd[1]) / 2, y=yd[1] + 8 / H,
                            xanchor="center", yanchor="bottom", showarrow=False,
                            font=dict(family=FONT, size=70, color=INK, weight="bold")))
    # y labels
    annotations.append(dict(text=y_label, xref="paper", yref="paper",
                            x=xd[0] - 167 / W, y=(yd[0] + yd[1]) / 2,
                            xanchor="center", yanchor="middle", textangle=-90, showarrow=False,
                            font=dict(family=FONT, size=70, color=INK, weight="bold")))
    # end ticks of the x axis line
    for xe in (xd[0], xd[1]):
        shapes.append(dict(type="line", xref="paper", yref="paper",
                           x0=xe, x1=xe, y0=yd[0], y1=yd[0] - 24 / H,
                           line=dict(color=INK, width=3)))

fig.update_layout(
    width=W, height=H,
    margin=dict(l=0, r=0, t=0, b=0),
    paper_bgcolor="white", plot_bgcolor="white",
    font=dict(family=FONT, color=INK),
    annotations=annotations, shapes=shapes,
    **layout,
)

fig.write_html("out.html", config={"displayModeBar": False},
               post_script="document.body.style.margin='0';")
